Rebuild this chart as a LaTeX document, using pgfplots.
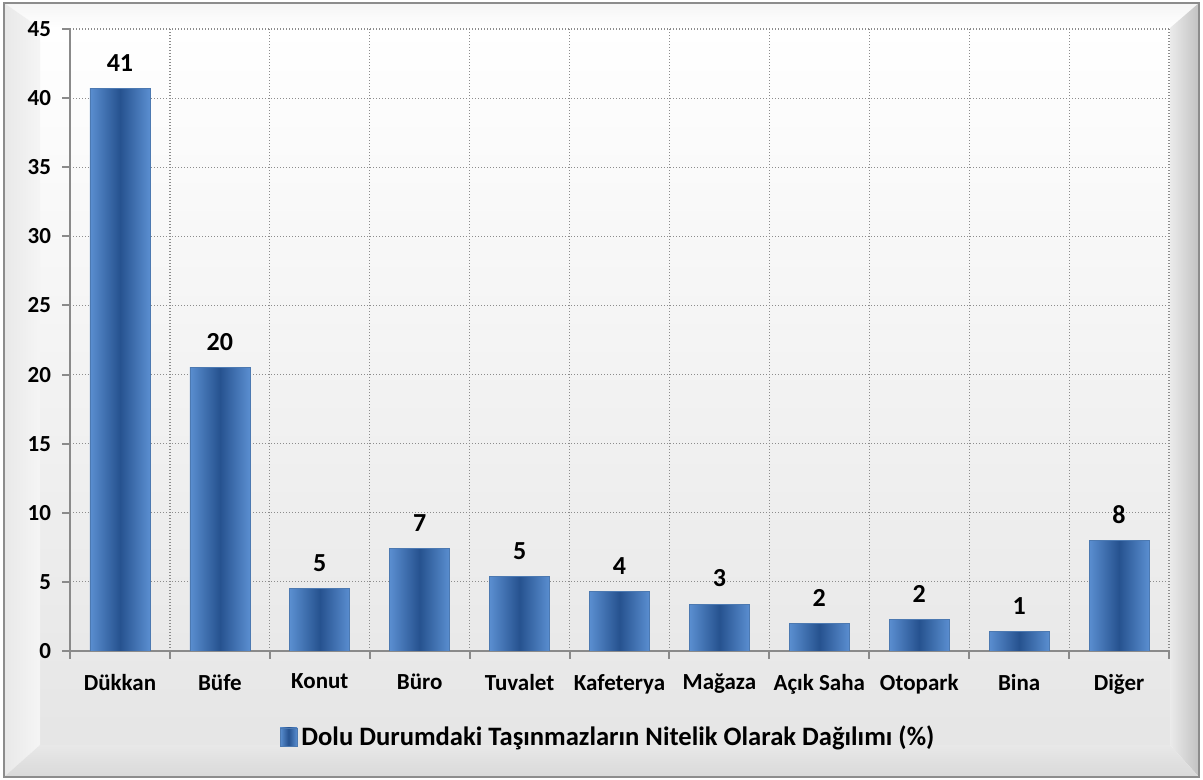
\documentclass[border=0pt]{standalone}
\usepackage{fontspec}
\setmainfont{Carlito}
\usepackage{pgfplots}
\pgfplotsset{compat=1.18}
\definecolor{barEdge}{HTML}{5A8ED0}
\definecolor{barMid}{HTML}{26528F}
\definecolor{gridGray}{HTML}{8C8C8C}
\definecolor{axisGray}{HTML}{8A8A8A}
\begin{document}
\begin{tikzpicture}
% background frame, 1 px = 0.5pt, y measured upward
\begin{scope}[x=0.5pt,y=0.5pt]
\useasboundingbox (0,0) rectangle (1203,780);
\fill[white] (0,0) rectangle (1203,780);
% inner panel
\shade[top color=white, bottom color=black!10] (40,35) rectangle (1170,752);
% top band
\shade[top color=black!4, bottom color=white] (4,777) -- (1199,777) -- (1170,752) -- (40,752) -- cycle;
% left band
\shade[left color=black!9, right color=black!4] (4,3) -- (4,777) -- (40,752) -- (40,35) -- cycle;
% right band
\shade[left color=black!8, right color=black!24] (1170,35) -- (1170,752) -- (1199,777) -- (1199,3) -- cycle;
% bottom band
\shade[top color=black!9, bottom color=black!15] (4,3) -- (40,35) -- (1170,35) -- (1199,3) -- cycle;
\draw[black!45, line width=0.8pt] (4,3) rectangle (1199,777);
\end{scope}
\begin{axis}[
  at={(35pt,64.5pt)}, anchor=south west,
  scale only axis, width=549.5pt, height=311pt,
  ybar, bar width=30pt, bar shift=0pt,
  xmin=-0.5, xmax=10.5, ymin=0, ymax=45,
  xtick={0,...,10},
  xticklabels={Dükkan,Büfe,Konut,Büro,Tuvalet,Kafeterya,Mağaza,Açık Saha,Otopark,Bina,Diğer},
  minor xtick={-0.5,0.5,...,10.5},
  ytick={0,5,...,45},
  axis x line*=bottom, axis y line*=left,
  axis line style={axisGray, line width=1pt},
  tick align=outside,
  major x tick style={draw=none},
  minor x tick style={axisGray, line width=1pt},
  y tick style={axisGray, line width=1pt},
  major tick length=4pt, minor tick length=4pt,
  xminorgrids=true, ymajorgrids=true,
  grid style={gridGray, line width=0.6pt, dash pattern=on 0.6pt off 0.9pt},
  /pgf/number format/assume math mode=true,
  yticklabel style={font=\bfseries\fontsize{11.5}{13}\selectfont, xshift=-2pt},
  xticklabel style={font=\bfseries\fontsize{11.5}{13}\selectfont, yshift=-4pt},
  point meta=explicit symbolic,
  nodes near coords,
  nodes near coords style={font=\bfseries\fontsize{13}{15}\selectfont, anchor=south, yshift=5pt},
  legend style={at={(0.4905,-0.138)}, anchor=center, draw=none, fill=none,
    font=\bfseries\fontsize{13.3}{15}\selectfont, inner sep=0pt},
  legend image code/.code={\shade[left color=barEdge, right color=barEdge, middle color=barMid] (0pt,-4.5pt) rectangle (8.5pt,4.5pt);},
  mybar/.style={draw=barEdge!85!black, line width=0.3pt, left color=barEdge, right color=barEdge, middle color=barMid},
]
\addplot[mybar] coordinates {(0,40.7)[41]};
\addplot[mybar] coordinates {(1,20.5)[20]};
\addplot[mybar] coordinates {(2,4.5)[5]};
\addplot[mybar] coordinates {(3,7.4)[7]};
\addplot[mybar] coordinates {(4,5.4)[5]};
\addplot[mybar] coordinates {(5,4.3)[4]};
\addplot[mybar] coordinates {(6,3.4)[3]};
\addplot[mybar] coordinates {(7,2.0)[2]};
\addplot[mybar] coordinates {(8,2.3)[2]};
\addplot[mybar] coordinates {(9,1.4)[1]};
\addplot[mybar] coordinates {(10,8.0)[8]};
\legend{Dolu Durumdaki Taşınmazların Nitelik Olarak Dağılımı (\%)}
\end{axis}
\end{tikzpicture}
\end{document}
